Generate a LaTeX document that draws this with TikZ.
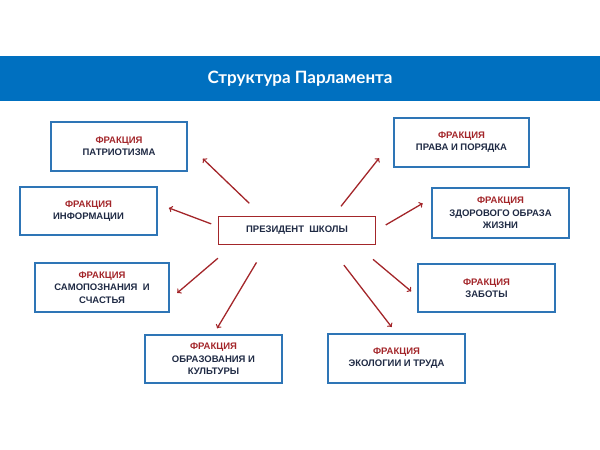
\documentclass[tikz,border=0pt]{standalone}
\usepackage{fontspec}
\setmainfont{Liberation Sans}
\newfontfamily\titlefont{Lato}
\definecolor{bannerblue}{HTML}{0070C0}
\definecolor{boxblue}{HTML}{2E75B6}
\definecolor{darkred}{HTML}{A3262A}
\definecolor{navy}{HTML}{1F2A44}
\newcommand{\frakcia}{{\color{darkred}ФРАКЦИЯ}}
\tikzset{
  fbox/.style={draw=boxblue, line width=1.3pt, inner sep=0pt, align=center,
    font=\fontsize{9.5}{12.3}\selectfont\bfseries, text=navy},
  pres/.style={draw=darkred, line width=1.5pt, inner sep=0pt,
    minimum width=157pt, minimum height=28pt,
    font=\fontsize{9.5}{11}\selectfont\bfseries, text=navy},
  link/.style={->, draw=darkred, line width=1.3pt}
}
\begin{document}
\begin{tikzpicture}[x=1pt, y=-1pt]
\useasboundingbox (0,0) rectangle (600,450);
\node[fill=bannerblue, minimum width=600pt, minimum height=45pt, inner sep=0pt,
  text=white, font=\titlefont\fontsize{17}{20}\selectfont\bfseries] (title) at (300,78.5) {Структура Парламента};
\node[pres] (pres) at (297,230.5) {ПРЕЗИДЕНТ\ \ ШКОЛЫ};
\node[fbox, minimum width=136pt, minimum height=49pt] (patr) at (119,146.5) {\frakcia\\ПАТРИОТИЗМА};
\node[fbox, minimum width=137pt, minimum height=48pt] (info) at (88.5,211) {\frakcia\\ИНФОРМАЦИИ};
\node[fbox, minimum width=134pt, minimum height=49pt] (samo) at (102,287.5) {\frakcia\\САМОПОЗНАНИЯ\ \ И\\СЧАСТЬЯ};
\node[fbox, minimum width=137pt, minimum height=48pt] (obraz) at (213.5,359) {\frakcia\\ОБРАЗОВАНИЯ И\\КУЛЬТУРЫ};
\node[fbox, minimum width=135pt, minimum height=49pt] (prava) at (461.5,142.5) {\frakcia\\ПРАВА И ПОРЯДКА};
\node[fbox, minimum width=137pt, minimum height=50pt] (zdor) at (500.5,213) {\frakcia\\ЗДОРОВОГО ОБРАЗА\\ЖИЗНИ};
\node[fbox, minimum width=137pt, minimum height=48pt] (zabota) at (486.5,288) {\frakcia\\ЗАБОТЫ};
\node[fbox, minimum width=137pt, minimum height=49pt] (ekol) at (396.5,358.5) {\frakcia\\ЭКОЛОГИИ И ТРУДА};
% arrows from the president
\draw[link, shorten <=18pt, shorten >=21pt] (pres.157.6) -- (patr.2.4);
\draw[link, shorten <=7pt, shorten >=12pt] (pres.177.8) -- (info.6);
\draw[link, shorten <=20pt, shorten >=10pt] (pres.193.6) -- (samo.-10);
\draw[link, shorten <=20pt, shorten >=7pt] (pres.206.3) -- (obraz.90.5);
\draw[link, shorten <=12pt, shorten >=23pt] (pres.22.3) -- (prava.178.7);
\draw[link, shorten <=11pt, shorten >=10pt] (pres.0.2) -- (zdor.168.5);
\draw[link, shorten <=22pt, shorten >=8pt] (pres.-14.7) -- (zabota.187.2);
\draw[link, shorten <=25pt, shorten >=8pt] (pres.-25.2) -- (ekol.90);
\end{tikzpicture}
\end{document}
